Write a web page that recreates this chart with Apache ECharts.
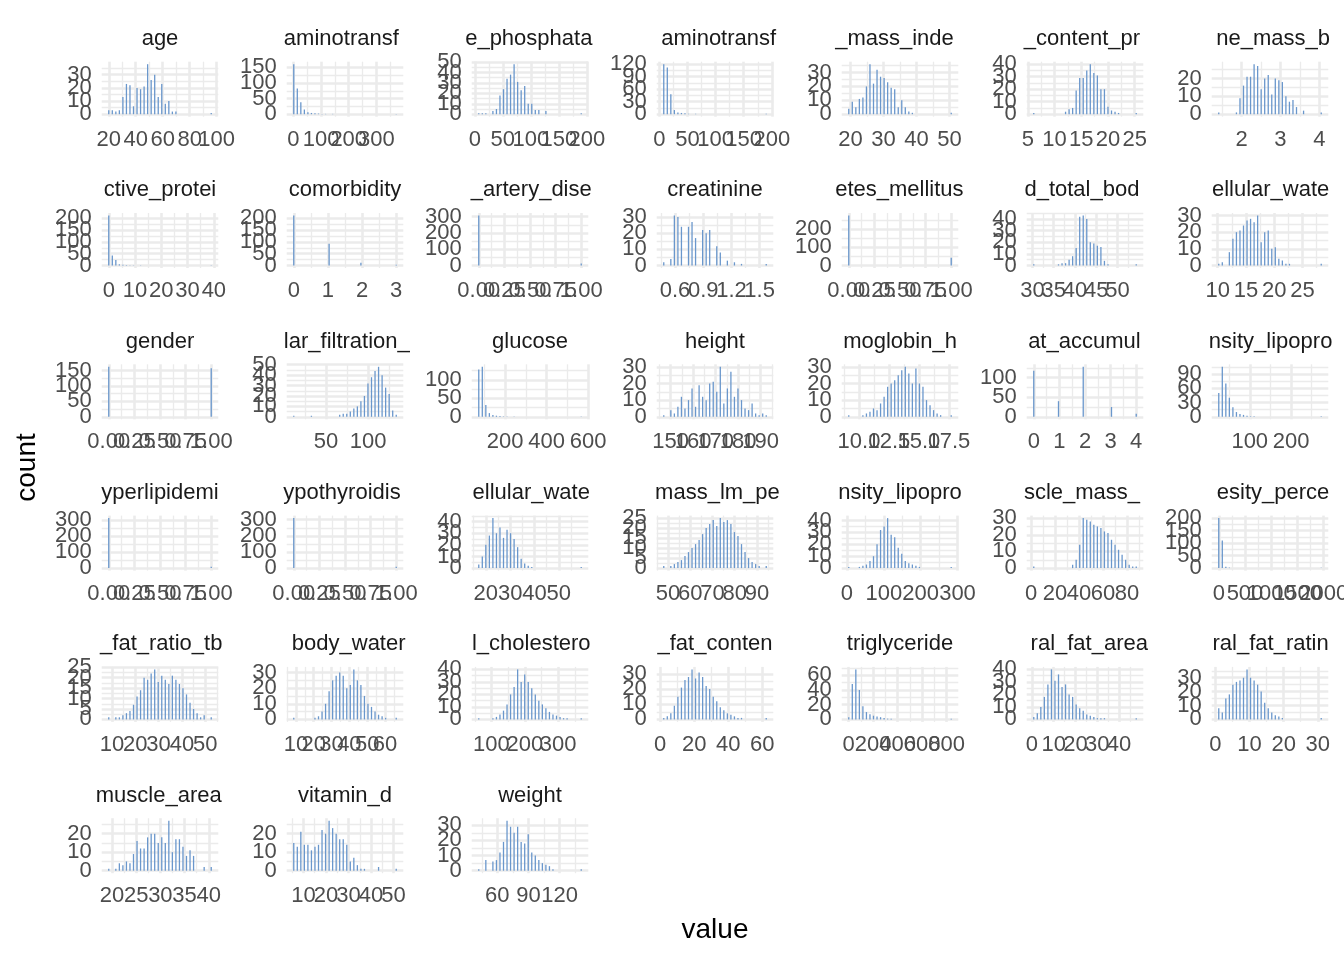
<!DOCTYPE html>
<html>
<head>
<meta charset="utf-8">
<script src="https://cdn.jsdelivr.net/npm/echarts@6/dist/echarts.min.js"></script>
<style>
html,body{margin:0;padding:0;background:#ffffff;}
#chart{width:1344px;height:960px;}
</style>
</head>
<body>
<div id="chart"></div>
<script>
// ---------- DATA ----------
const panelNames = [
  "age","alanin_aminotransferaz_alt","alkaline_phosphatase_alp","aspartat_aminotransferaz_ast","body_mass_index_bmi","body_protein_content_protein_percent","bone_mass_bm",
  "c_reactive_protein_crp","comorbidity","coronary_artery_disease_cad","creatinine","diabetes_mellitus_dm","extracellular_fluid_total_body_water_ecf_tbw","extracellular_water_ecw",
  "gender","glomerular_filtration_rate_gfr","glucose","height","hemoglobin_hgb","hepatic_fat_accumulation_hfa","high_density_lipoprotein_hdl",
  "hyperlipidemia","hypothyroidism","intracellular_water_icw","lean_mass_lm_percent","low_density_lipoprotein_ldl","muscle_mass_mm","obesity_percent",
  "total_body_fat_ratio_tbfr_percent","total_body_water_tbw","total_cholesterol_tc","total_fat_content_tfc","triglyceride","visceral_fat_area_vfa","visceral_fat_rating_vfr",
  "visceral_muscle_area_vma_kg","vitamin_d","weight"
];

// centre of the first and of the last histogram bin (30 bins per panel)
const binFirst = [20,1,7,8,19.5,6.1,1.41, 0,0,0,0.48,0,30.3,10.2, 0,11.6,73.5,147,9.15,0,25, 0,0,17.1,48.1,5,2.3,0, 8.6,8.8,62,2.1,1,0.87,1, 19.35,5.7,42.1];
const binLast  = [96,372,190,190,50.5,25.3,4.05, 39,3,1,1.57,1,54.4,28.3, 1,133.5,567,192.5,17.7,4,273, 1,1,59.2,94.2,283,87.7,1954, 52.6,66.3,369,62.4,838,47.9,31, 40.5,51.2,140.8];

const countsAge          = [3,3,2,3,13,23,22,6,20,19,21,38,26,30,13,23,8,10,2,2,0,0,0,0,0,0,0,0,0,1];
const countsAlt          = [160,82,38,15,6,4,3,2,1,1,0,1,0,0,0,0,0,0,0,0,0,0,0,0,0,0,0,0,0,1];
const countsAlp          = [1,1,1,0,3,5,18,24,34,38,48,31,23,27,10,10,4,4,0,3,0,0,0,0,0,0,0,0,0,1];
const countsAst          = [120,112,48,10,4,3,2,1,0,1,0,0,0,0,0,0,0,0,0,0,0,0,0,0,0,0,0,0,0,1];
const countsBmi          = [4,9,5,11,12,20,36,22,32,27,26,23,19,18,5,10,5,2,1,0,0,0,0,0,0,0,0,0,0,1];
const countsProtein      = [1,0,0,0,0,0,0,0,0,2,4,5,19,29,29,35,40,33,31,20,20,6,3,2,1,0,0,0,0,1];
const countsBone         = [1,0,0,0,0,1,9,16,21,21,28,27,14,20,22,11,20,19,18,10,7,8,4,0,2,0,0,0,0,1];
const countsCrp          = [212,42,23,5,3,2,1,1,0,1,0,0,0,0,0,0,0,0,0,0,0,0,0,0,0,0,0,0,0,1];
const countsComorbidity  = [212,0,0,0,0,0,0,0,0,0,92,0,0,0,0,0,0,0,0,12,0,0,0,0,0,0,0,0,0,3];
const countsCad          = [307,0,0,0,0,0,0,0,0,0,0,0,0,0,0,0,0,0,0,0,0,0,0,0,0,0,0,0,0,12];
const countsCreatinine   = [2,0,4,31,30,24,0,24,27,17,0,22,20,22,0,12,8,0,3,0,2,0,1,0,0,0,0,0,0,1];
const countsDiabetes     = [276,0,0,0,0,0,0,0,0,0,0,0,0,0,0,0,0,0,0,0,0,0,0,0,0,0,0,0,0,43];
const countsEcfTbw       = [1,0,0,0,0,0,0,1,2,2,5,8,15,42,43,40,20,19,17,16,4,1,0,0,0,0,0,0,0,1];
const countsEcw          = [1,2,0,8,16,20,21,24,27,28,26,30,14,20,21,10,11,4,3,1,1,0,0,0,0,0,0,0,0,1];
const countsGender       = [162,0,0,0,0,0,0,0,0,0,0,0,0,0,0,0,0,0,0,0,0,0,0,0,0,0,0,0,0,157];
const countsGfr          = [1,0,0,0,0,1,0,0,0,0,0,0,0,2,3,3,5,8,10,15,20,32,38,44,48,40,28,22,6,2];
const countsGlucose      = [128,135,32,10,5,3,2,1,1,0,1,0,0,0,0,0,0,0,0,0,0,0,0,0,0,0,0,0,0,1];
const countsHeight       = [1,0,4,2,6,12,5,10,17,6,19,12,10,20,21,15,30,8,17,27,12,17,10,5,4,8,2,1,2,1];
const countsHemoglobin   = [1,0,0,0,1,2,3,5,4,8,12,18,20,22,25,28,30,26,20,29,20,18,10,7,4,2,1,0,0,1];
const countsHfa          = [118,0,0,0,0,0,0,40,0,0,0,0,0,0,128,0,0,0,0,0,0,0,25,0,0,0,0,0,0,8];
const countsHdl          = [50,105,70,40,20,10,6,4,2,1,1,0,0,0,0,0,0,0,0,0,0,0,0,0,0,0,0,0,0,1];
const countsHyperlip     = [311,0,0,0,0,0,0,0,0,0,0,0,0,0,0,0,0,0,0,0,0,0,0,0,0,0,0,0,0,8];
const countsHypothyroid  = [310,0,0,0,0,0,0,0,0,0,0,0,0,0,0,0,0,0,0,0,0,0,0,0,0,0,0,0,0,9];
const countsIcw          = [3,10,20,28,43,30,35,26,33,30,25,18,8,4,2,1,0,0,0,0,0,0,0,0,0,0,0,0,0,1];
const countsLeanMass     = [1,0,1,2,3,4,6,8,10,12,14,17,20,22,24,21,25,23,24,22,18,16,12,8,5,3,2,1,0,1];
const countsLdl          = [1,0,0,1,2,3,6,10,20,32,35,42,28,26,17,12,6,4,3,2,1,0,0,0,0,0,0,0,0,1];
const countsMuscleMass   = [1,0,0,0,0,0,0,0,0,0,0,2,5,14,30,29,28,26,25,24,22,21,17,14,11,8,5,2,1,1];
const countsObesity      = [200,110,5,2,0,0,0,0,0,0,0,0,0,0,0,0,0,0,0,0,0,0,0,0,0,0,0,0,0,1];
const countsTbfr         = [1,0,1,1,2,3,4,7,11,14,20,19,22,24,18,21,19,17,21,19,17,15,12,8,5,3,1,2,0,1];
const countsTbw          = [1,0,0,0,0,0,1,2,5,10,18,25,28,30,28,20,22,32,25,22,15,10,8,5,3,2,1,0,0,1];
const countsCholesterol  = [1,0,0,0,1,2,4,7,12,20,26,40,30,36,30,25,20,15,12,9,6,4,3,2,1,1,0,0,0,1];
const countsFatContent   = [1,2,4,9,15,21,26,28,33,27,31,28,22,20,15,12,8,6,4,3,2,1,1,0,0,0,0,0,0,1];
const countsTriglyceride = [3,48,68,40,18,10,7,5,4,3,2,1,1,0,0,0,0,0,0,0,0,0,0,0,0,0,0,0,0,1];
const countsVfa          = [2,5,10,18,28,40,31,36,26,28,20,18,12,9,7,4,3,2,1,1,1,0,0,0,0,0,0,0,0,1];
const countsVfr          = [8,5,15,18,25,27,28,30,36,30,28,25,20,12,8,5,3,2,1,0,0,0,0,0,0,0,0,0,0,1];
const countsVma          = [1,0,1,4,3,5,4,9,16,12,12,18,20,20,15,18,15,27,10,17,17,13,8,11,8,0,0,2,0,2];
const countsVitaminD     = [15,13,21,14,14,11,13,14,22,20,27,23,20,17,17,14,5,7,3,1,1,0,0,0,2,0,0,0,0,1];
const countsWeight       = [1,0,7,0,6,7,12,19,33,29,25,29,19,18,24,12,10,7,5,4,3,1,0,0,0,0,0,0,0,1];

const panelCounts = [
  countsAge,countsAlt,countsAlp,countsAst,countsBmi,countsProtein,countsBone,
  countsCrp,countsComorbidity,countsCad,countsCreatinine,countsDiabetes,countsEcfTbw,countsEcw,
  countsGender,countsGfr,countsGlucose,countsHeight,countsHemoglobin,countsHfa,countsHdl,
  countsHyperlip,countsHypothyroid,countsIcw,countsLeanMass,countsLdl,countsMuscleMass,countsObesity,
  countsTbfr,countsTbw,countsCholesterol,countsFatContent,countsTriglyceride,countsVfa,countsVfr,
  countsVma,countsVitaminD,countsWeight
];

const binary = ["0.00","0.25","0.50","0.75","1.00"];
const xTickLabels = [
  ["20","40","60","80","100"],["0","100","200","300"],["0","50","100","150","200"],["0","50","100","150","200"],["20","30","40","50"],["5","10","15","20","25"],["2","3","4"],
  ["0","10","20","30","40"],["0","1","2","3"],binary,["0.6","0.9","1.2","1.5"],binary,["30","35","40","45","50"],["10","15","20","25"],
  binary,["50","100"],["200","400","600"],["150","160","170","180","190"],["10.0","12.5","15.0","17.5"],["0","1","2","3","4"],["100","200"],
  binary,binary,["20","30","40","50"],["50","60","70","80","90"],["0","100","200","300"],["0","20","40","60","80"],["0","500","1000","1500","2000"],
  ["10","20","30","40","50"],["10","20","30","40","50","60"],["100","200","300"],["0","20","40","60"],["0","200","400","600","800"],["0","10","20","30","40"],["0","10","20","30"],
  ["20","25","30","35","40"],["10","20","30","40","50"],["60","90","120"]
];
const yTickValues = [
  [0,10,20,30],[0,50,100,150],[0,10,20,30,40,50],[0,30,60,90,120],[0,10,20,30],[0,10,20,30,40],[0,10,20],
  [0,50,100,150,200],[0,50,100,150,200],[0,100,200,300],[0,10,20,30],[0,100,200],[0,10,20,30,40],[0,10,20,30],
  [0,50,100,150],[0,10,20,30,40,50],[0,50,100],[0,10,20,30],[0,10,20,30],[0,50,100],[0,30,60,90],
  [0,100,200,300],[0,100,200,300],[0,10,20,30,40],[0,5,10,15,20,25],[0,10,20,30,40],[0,10,20,30],[0,50,100,150,200],
  [0,5,10,15,20,25],[0,10,20,30],[0,10,20,30,40],[0,10,20,30],[0,20,40,60],[0,10,20,30,40],[0,10,20,30],
  [0,10,20],[0,10,20],[0,10,20,30]
];

// ---------- LAYOUT / STYLE ----------
const FONT_FAMILY = '"Liberation Sans", Arial, Helvetica, sans-serif';
const N_COLS = 7, LEFT0 = 101.7, TOP0 = 61.7, PITCH_X = 185, PITCH_Y = 151.3, PANEL_W = 116.6, PANEL_H = 55;
const GRID_COLOR = '#ebebeb', MAJOR_W = 2.6, MINOR_W = 1.3;
const TICK_FONT = 22, STRIP_FONT = 22, TITLE_FONT = 28;
const BAR_COLOR = '#6a97cc', BAR_W = 1.3;
const LABEL_GROUPS = 3;   // labels of one axis are split over a few axes so that ECharts keeps every one of them

function minorBreaks(major, lo, hi) {
  const step = major[1] - major[0];
  const ext = [major[0] - step].concat(major, [major[major.length - 1] + step]);
  const out = [];
  for (let k = 0; k < ext.length - 1; k++) {
    const m = (ext[k] + ext[k + 1]) / 2;
    if (m >= lo && m <= hi) out.push(m);
  }
  return out;
}

const measureCtx = document.createElement('canvas').getContext('2d');
measureCtx.font = STRIP_FONT + 'px ' + FONT_FAMILY;
function clippedStrip(name, cx, halfW) {
  const total = measureCtx.measureText(name).width;
  let x = cx - total / 2, start = -1, end = -1, startX = 0;
  for (let k = 0; k < name.length; k++) {
    const w = measureCtx.measureText(name.slice(0, k + 1)).width - measureCtx.measureText(name.slice(0, k)).width;
    const mid = x + w / 2;
    if (mid >= cx - halfW - 1 && mid <= cx + halfW + 1) {
      if (start < 0) { start = k; startX = x; }
      end = k;
    }
    x += w;
  }
  return { text: name.slice(start, end + 1), x: startX };
}

const grids = [], xAxes = [], yAxes = [], series = [], graphics = [];

function labelFormatter(values, labels) {
  return v => {
    const k = values.findIndex(t => Math.abs(t - v) < 1e-9 * Math.max(1, Math.abs(t)));
    return k >= 0 ? labels[k] : '';
  };
}

panelNames.forEach((name, i) => {
  const col = i % N_COLS, row = Math.floor(i / N_COLS);
  const left = LEFT0 + col * PITCH_X, top = TOP0 + row * PITCH_Y;
  const counts = panelCounts[i];
  const nb = counts.length;
  const a = binFirst[i], b = binLast[i];
  const bw = (b - a) / (nb - 1);
  const span = bw * nb;
  const xlo = a - bw / 2 - 0.05 * span, xhi = b + bw / 2 + 0.05 * span;
  const maxC = Math.max.apply(null, counts);
  const ylo = -0.05 * maxC, yhi = 1.05 * maxC;
  const xLabels = xTickLabels[i];
  const xMajor = xLabels.map(parseFloat);
  const xMinor = minorBreaks(xMajor, xlo, xhi);
  const yMajor = yTickValues[i];
  const yLabels = yMajor.map(String);
  const yMinor = minorBreaks(yMajor, ylo, yhi);

  grids.push({ left: left, top: top, width: PANEL_W, height: PANEL_H, containLabel: false, outerBoundsMode: 'none', show: false });

  // minor grid lines
  xAxes.push({
    type: 'value', gridIndex: i, position: 'bottom', min: xlo, max: xhi,
    axisLine: { show: false, onZero: false },
    axisTick: { show: false, customValues: xMinor },
    axisLabel: { show: false },
    splitLine: { show: true, lineStyle: { color: GRID_COLOR, width: MINOR_W } },
    z: 0
  });
  yAxes.push({
    type: 'value', gridIndex: i, position: 'left', min: ylo, max: yhi,
    axisLine: { show: false, onZero: false },
    axisTick: { show: false, customValues: yMinor },
    axisLabel: { show: false },
    splitLine: { show: true, lineStyle: { color: GRID_COLOR, width: MINOR_W } },
    z: 0
  });
  const xMain = xAxes.length - 1, yMain = yAxes.length - 1;

  // major grid lines + tick labels
  for (let g = 0; g < LABEL_GROUPS; g++) {
    const xv = xMajor.filter((_, k) => k % LABEL_GROUPS === g);
    if (xv.length) {
      xAxes.push({
        type: 'value', gridIndex: i, position: 'bottom', min: xlo, max: xhi,
        axisLine: { show: false, onZero: false },
        axisTick: { show: false, customValues: xv },
        axisLabel: {
          show: true, customValues: xv, margin: 12, showMinLabel: true, showMaxLabel: true,
          fontSize: TICK_FONT, fontFamily: FONT_FAMILY, color: '#4d4d4d',
          formatter: labelFormatter(xMajor, xLabels)
        },
        splitLine: { show: true, lineStyle: { color: GRID_COLOR, width: MAJOR_W } },
        z: 1
      });
    }
    const yv = yMajor.filter((_, k) => k % LABEL_GROUPS === g);
    if (yv.length) {
      yAxes.push({
        type: 'value', gridIndex: i, position: 'left', min: ylo, max: yhi,
        axisLine: { show: false, onZero: false },
        axisTick: { show: false, customValues: yv },
        axisLabel: {
          show: true, customValues: yv, margin: 10, showMinLabel: true, showMaxLabel: true,
          fontSize: TICK_FONT, fontFamily: FONT_FAMILY, color: '#4d4d4d',
          formatter: labelFormatter(yMajor, yLabels)
        },
        splitLine: { show: true, lineStyle: { color: GRID_COLOR, width: MAJOR_W } },
        z: 1
      });
    }
  }

  series.push({
    type: 'bar', name: name, xAxisIndex: xMain, yAxisIndex: yMain,
    data: counts.map((c, k) => [a + k * bw, c]),
    barWidth: BAR_W,
    itemStyle: { color: BAR_COLOR },
    silent: true, animation: false, clip: true, z: 3
  });

  const strip = clippedStrip(name, left + PANEL_W / 2, PANEL_W / 2);
  graphics.push({
    type: 'text', x: strip.x, y: top - 22.7, silent: true,
    style: { text: strip.text, fill: '#1a1a1a', font: STRIP_FONT + 'px ' + FONT_FAMILY,
             align: 'left', verticalAlign: 'middle', textAlign: 'left', textVerticalAlign: 'middle' }
  });
});

const plotLeft = LEFT0, plotRight = LEFT0 + (N_COLS - 1) * PITCH_X + PANEL_W;
const nRows = Math.ceil(panelNames.length / N_COLS);
const plotTop = TOP0, plotBottom = TOP0 + (nRows - 1) * PITCH_Y + PANEL_H;

graphics.push({
  type: 'text', x: (plotLeft + plotRight) / 2, y: 930, silent: true,
  style: { text: 'value', fill: '#000000', font: TITLE_FONT + 'px ' + FONT_FAMILY,
           align: 'center', verticalAlign: 'middle', textAlign: 'center', textVerticalAlign: 'middle' }
});
graphics.push({
  type: 'text', x: 27, y: (plotTop + plotBottom) / 2, rotation: Math.PI / 2, silent: true,
  style: { text: 'count', fill: '#000000', font: TITLE_FONT + 'px ' + FONT_FAMILY,
           align: 'center', verticalAlign: 'middle', textAlign: 'center', textVerticalAlign: 'middle' }
});

const chart = echarts.init(document.getElementById('chart'), null, { renderer: 'canvas', width: 1344, height: 960 });
chart.setOption({
  animation: false,
  backgroundColor: '#ffffff',
  grid: grids,
  xAxis: xAxes,
  yAxis: yAxes,
  series: series,
  graphic: { elements: graphics }
});
</script>
</body>
</html>
